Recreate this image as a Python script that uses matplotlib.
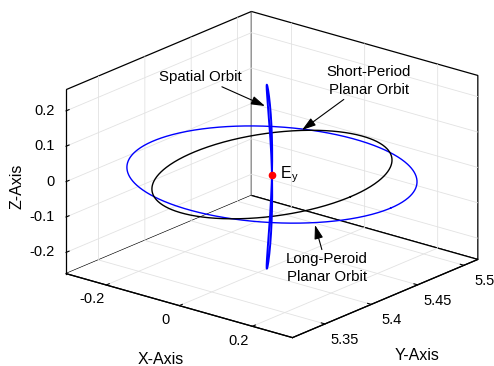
import numpy as np
import matplotlib.pyplot as plt
from mpl_toolkits.mplot3d import proj3d

plt.rcParams['font.family'] = ['Liberation Sans', 'DejaVu Sans']
plt.rcParams['mathtext.fontset'] = 'custom'
plt.rcParams['mathtext.rm'] = 'Liberation Sans'
plt.rcParams['grid.color'] = '#e2e2e2'
plt.rcParams['grid.linewidth'] = 0.6

# equilibrium point E_y (x, y, z)
ey = [0.0, 5.415, 0.0]

# planar orbits about E_y: semi-axes along x and y
long_amp = [0.325, 0.090]
short_amp = [0.215, 0.098]
# spatial orbit: x lobe width, y drift at the tips, z amplitude
spatial_amp = [0.003, 0.0055, 0.26]

xlim = [-0.31, 0.31]
ylim = [5.315, 5.515]
zlim = [-0.26, 0.26]
xticks = [-0.2, 0, 0.2]
yticks = [5.35, 5.4, 5.45, 5.5]
zticks = [-0.2, -0.1, 0, 0.1, 0.2]
xtick_labels = ['-0.2', '0', '0.2']
ytick_labels = ['5.35', '5.4', '5.45', '5.5']
ztick_labels = ['-0.2', '-0.1', '0', '0.1', '0.2']

W, H = 494, 366
fig = plt.figure(figsize=(W / 100, H / 100), dpi=100)
side = 500
ax = fig.add_axes([15.2 / W, -65.3 / H, side / W, side / H], projection='3d')
ax.set_proj_type('ortho')
ax.view_init(elev=20.2, azim=-50.7)
ax.set_box_aspect((1, 1, 0.67), zoom=0.889)

t = np.linspace(0, 2 * np.pi, 600)

# long-period planar orbit
ax.plot(ey[0] + long_amp[0] * np.cos(t), ey[1] + long_amp[1] * np.sin(t),
        np.full_like(t, ey[2]), color='blue', lw=1.0)
# short-period planar orbit
ax.plot(ey[0] + short_amp[0] * np.cos(t), ey[1] + short_amp[1] * np.sin(t),
        np.full_like(t, ey[2]), color='black', lw=1.0)
# spatial orbit (figure-eight seen almost edge on)
ax.plot(ey[0] + spatial_amp[0] * np.sin(2 * t),
        ey[1] - spatial_amp[1] * np.sin(t) ** 2,
        ey[2] + spatial_amp[2] * np.sin(t), color='blue', lw=1.4)

ax.plot([ey[0]], [ey[1]], [ey[2]], 'o', color='red', ms=4.5, mec='red')

ax.set_xlim(xlim)
ax.set_ylim(ylim)
ax.set_zlim(zlim)
ax.set_xticks(xticks)
ax.set_yticks(yticks)
ax.set_zticks(zticks)
for axis in (ax.xaxis, ax.yaxis, ax.zaxis):
    axis.set_tick_params(labelbottom=False, labeltop=False)
    axis.label.set_visible(False)
    axis.offsetText.set_visible(False)
    axis.set_pane_color((1, 1, 1, 1))
    axis.pane.set_edgecolor('black')
    axis.pane.set_linewidth(0.9)
    axis.line.set_color('black')
    axis.line.set_linewidth(0.9)
    axis._axinfo['tick']['inward_factor'] = 0.0
    axis._axinfo['tick']['outward_factor'] = 0.2
    axis._axinfo['tick']['linewidth'] = {True: 0.8, False: 0.5}
ax.zaxis.set_ticks_position('lower')

# projection used at draw time, so 3D points can carry plain 2D texts
M = ax.get_proj()


def label3d(x, y, z, s, **kw):
    px, py, _ = proj3d.proj_transform(x, y, z, M)
    ax.text2D(px, py, s, transform=ax.transData, **kw)


label3d(ey[0], ey[1], ey[2], r'  E$_{\rm y}$', fontsize=11.5, ha='left', va='center')

# tick labels, set just outside the lower box edges
xr = xlim[1] - xlim[0]
yr = ylim[1] - ylim[0]
zr = zlim[1] - zlim[0]
tick_font = dict(fontsize=10.5, color='black')
for v, s in zip(xticks, xtick_labels):
    label3d(v, ylim[0] - 0.076 * yr, zlim[0] - 0.046 * zr, s,
            ha='center', va='center', **tick_font)
for v, s in zip(yticks, ytick_labels):
    label3d(xlim[1] + 0.089 * xr, v, zlim[0] - 0.056 * zr, s,
            ha='center', va='center', **tick_font)
for v, s in zip(zticks, ztick_labels):
    label3d(xlim[0] - 0.029 * xr, ylim[0] - 0.024 * yr, v, s,
            ha='right', va='center', **tick_font)

fig.text(161 / W, 1 - 359 / H, 'X-Axis', fontsize=11.5, ha='center', va='center')
fig.text(417 / W, 1 - 355 / H, 'Y-Axis', fontsize=11.5, ha='center', va='center')
fig.text(17 / W, 1 - 186 / H, 'Z-Axis', fontsize=11.5, ha='center', va='center',
         rotation=90)


def fp(px, py):
    return (px / W, 1 - py / H)


arrow = dict(arrowstyle='-|>,head_length=0.7,head_width=0.22', color='black',
             lw=0.8, shrinkA=0, shrinkB=0, mutation_scale=12)
ax.annotate('Spatial Orbit', xy=fp(265, 106), xytext=fp(200, 77),
            xycoords='figure fraction', textcoords='figure fraction',
            ha='center', va='center', fontsize=10.8, arrowprops=arrow)
ax.annotate('Short-Period\nPlanar Orbit', xy=fp(302, 130), xytext=fp(369, 81),
            xycoords='figure fraction', textcoords='figure fraction',
            ha='center', va='center', fontsize=10.8, linespacing=1.3,
            arrowprops=arrow)
ax.annotate('Long-Peroid\nPlanar Orbit', xy=fp(315, 225), xytext=fp(327, 268),
            xycoords='figure fraction', textcoords='figure fraction',
            ha='center', va='center', fontsize=10.8, linespacing=1.3,
            arrowprops=arrow)

fig.savefig('out.png', dpi=100, facecolor='white')
